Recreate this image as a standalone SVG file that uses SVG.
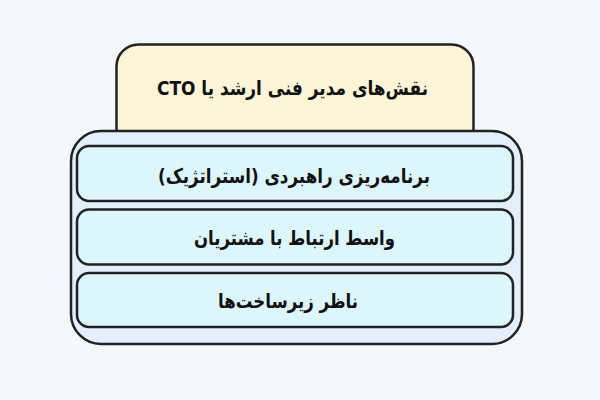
<svg xmlns="http://www.w3.org/2000/svg" width="600" height="400" viewBox="0 0 600 400">
<style>
.box{stroke:#222;stroke-width:2.5}
.hdr{fill:#fcf5d7}
.outer{fill:#e3effd}
.inner{fill:#dcf6fc}
.t{font-family:"DejaVu Sans","Noto Sans",sans-serif;font-weight:bold;fill:#111;text-anchor:middle;direction:rtl;font-size:20px}
</style>
<rect x="0" y="0" width="600" height="400" fill="#f4f8fd"/>
<g id="header">
<rect class="box hdr" x="116.5" y="44.5" width="357" height="120" rx="22"/>
</g>
<g id="container">
<rect class="box outer" x="71" y="131" width="451" height="213" rx="30"/>
</g>
<g id="header-label">
<text class="t" x="292.5" y="95" textLength="271" lengthAdjust="spacingAndGlyphs">نقش‌های مدیر فنی ارشد یا CTO</text>
</g>
<g id="item1">
<rect class="box inner" x="77" y="146" width="436" height="55" rx="12"/>
<text class="t" x="294" y="183" textLength="272" lengthAdjust="spacingAndGlyphs">برنامه‌ریزی راهبردی (استراتژیک)</text>
</g>
<g id="item2">
<rect class="box inner" x="77" y="209.5" width="436" height="55" rx="12"/>
<text class="t" x="294.5" y="245" textLength="201" lengthAdjust="spacingAndGlyphs">واسط ارتباط با مشتریان</text>
</g>
<g id="item3">
<rect class="box inner" x="77" y="273" width="436" height="54" rx="12"/>
<text class="t" x="288" y="308" textLength="140" lengthAdjust="spacingAndGlyphs">ناظر زیرساخت‌ها</text>
</g>
<g id="connectors"></g>
</svg>
